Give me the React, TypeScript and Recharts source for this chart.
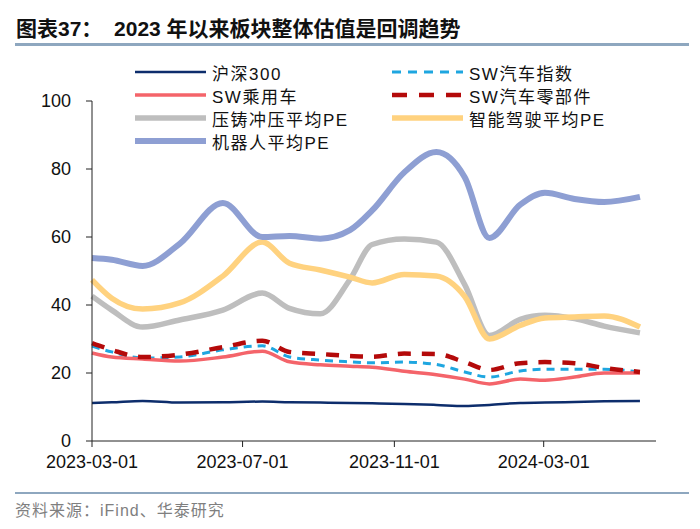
import React from "react";
import { LineChart, Line, XAxis, YAxis } from "recharts";

// 日期（x 轴按真实日期刻度）
const dates = [
  "2023-03-01", "2023-03-17", "2023-04-11", "2023-05-11", "2023-06-15",
  "2023-07-17", "2023-08-08", "2023-09-02", "2023-09-26", "2023-10-14",
  "2023-11-09", "2023-12-05", "2023-12-28", "2024-01-17", "2024-02-11",
  "2024-03-02", "2024-03-26", "2024-04-19", "2024-05-18",
];

const hs300 = [11.2, 11.4, 11.8, 11.3, 11.4, 11.6, 11.4, 11.3, 11.2, 11.1, 10.9, 10.6, 10.3, 10.6, 11.2, 11.3, 11.5, 11.7, 11.8];
const swAuto = [27.9, 26.2, 24.4, 24.7, 26.8, 28.0, 24.7, 23.8, 23.3, 23.0, 23.2, 22.5, 20.3, 18.8, 20.6, 21.1, 21.1, 21.1, 20.3];
const swCar = [25.9, 24.7, 24.1, 23.5, 24.7, 26.4, 23.3, 22.4, 22.0, 21.7, 20.5, 19.5, 18.2, 16.8, 18.2, 17.9, 18.8, 20.0, 20.0];
const swParts = [28.8, 26.8, 24.7, 25.4, 27.6, 29.5, 26.2, 25.6, 25.0, 24.8, 25.7, 25.6, 23.2, 20.9, 22.9, 23.2, 22.9, 21.5, 20.3];
const dieCast = [42.6, 38.5, 33.5, 35.6, 38.5, 43.5, 39.0, 37.4, 47.5, 57.8, 59.4, 58.5, 46.0, 31.0, 35.8, 37.0, 36.0, 33.8, 31.8];
const smartDrive = [47.4, 42.0, 38.8, 40.6, 48.5, 58.5, 52.3, 50.3, 48.2, 46.5, 49.0, 48.5, 42.5, 30.0, 34.0, 36.2, 36.5, 36.8, 33.5];
const robot = [53.8, 53.3, 51.5, 58.0, 70.0, 60.0, 60.3, 59.5, 62.0, 67.8, 79.0, 85.0, 77.6, 59.7, 69.5, 73.0, 71.2, 70.3, 71.8];

const xTicks = ["2023-03-01", "2023-07-01", "2023-11-01", "2024-03-01"];
const yTicks = [0, 20, 40, 60, 80, 100];

const toTs = (d: string) => Date.parse(d + "T00:00:00Z");
const fmt = (t: number) => new Date(t).toISOString().slice(0, 10);

const series = [
  { key: "hs300", name: "沪深300", values: hs300, color: "#0D2D6C", width: 2.5, dash: undefined as string | undefined, legendDash: undefined as string | undefined },
  { key: "swAuto", name: "SW汽车指数", values: swAuto, color: "#1EA6E0", width: 3, dash: "8 6", legendDash: "9 7" },
  { key: "swCar", name: "SW乘用车", values: swCar, color: "#F4646A", width: 3.5, dash: undefined, legendDash: undefined },
  { key: "swParts", name: "SW汽车零部件", values: swParts, color: "#B40A0A", width: 4.5, dash: "13 11", legendDash: "15 12" },
  { key: "dieCast", name: "压铸冲压平均PE", values: dieCast, color: "#BEBEBE", width: 5.5, dash: undefined, legendDash: undefined },
  { key: "smartDrive", name: "智能驾驶平均PE", values: smartDrive, color: "#FFD27F", width: 5.5, dash: undefined, legendDash: undefined },
  { key: "robot", name: "机器人平均PE", values: robot, color: "#8E9FD3", width: 6, dash: undefined, legendDash: undefined },
];

const data = dates.map((d, i) => {
  const row: Record<string, number> = { t: toTs(d) };
  series.forEach((s) => {
    row[s.key] = s.values[i];
  });
  return row;
});

const FONT = '"Liberation Sans", Arial, "Noto Sans CJK SC", sans-serif';

function ChartLegend() {
  const colX = [135, 392];
  const rowY = [72, 95, 118, 141];
  return (
    <>
      {series.map((s, i) => {
        const col = i % 2;
        const row = Math.floor(i / 2);
        return (
          <div
            key={s.key}
            style={{
              position: "absolute",
              left: colX[col],
              top: rowY[row] - 11,
              height: 22,
              display: "flex",
              alignItems: "center",
              whiteSpace: "nowrap",
            }}
          >
            <svg width={71} height={10} style={{ display: "block" }}>
              <line
                x1={0}
                y1={5}
                x2={71}
                y2={5}
                stroke={s.color}
                strokeWidth={s.width}
                strokeDasharray={s.legendDash}
                strokeLinecap={s.legendDash ? "butt" : "round"}
              />
            </svg>
            <span
              style={{
                marginLeft: 6,
                fontSize: 17,
                letterSpacing: 1.5,
                color: "#111",
                fontFamily: FONT,
              }}
            >
              {s.name}
            </span>
          </div>
        );
      })}
    </>
  );
}

export default function App() {
  return (
    <div
      style={{
        position: "absolute",
        left: 0,
        top: 0,
        width: 700,
        height: 529,
        background: "#fff",
        fontFamily: FONT,
        overflow: "hidden",
      }}
    >
      <div
        style={{
          position: "absolute",
          left: 16,
          top: 12,
          fontSize: 21,
          fontWeight: "bold",
          color: "#111",
          whiteSpace: "pre",
        }}
      >
        {"图表37：  2023 年以来板块整体估值是回调趋势"}
      </div>
      <div style={{ position: "absolute", left: 15, top: 43, width: 674, height: 3, background: "#8EA7BF" }} />

      <div style={{ position: "absolute", left: 0, top: 0 }}>
        <LineChart
          width={700}
          height={529}
          data={data}
          margin={{ top: 101, right: 44, bottom: 58, left: 0 }}
        >
          <XAxis
            dataKey="t"
            type="number"
            scale="time"
            domain={[toTs("2023-03-01"), toTs("2024-05-31")]}
            ticks={xTicks.map(toTs)}
            tickFormatter={fmt}
            height={30}
            stroke="#222"
            tickSize={6}
            tickMargin={8}
            tick={{ fill: "#111", fontSize: 18, fontFamily: FONT }}
          />
          <YAxis
            domain={[0, 100]}
            ticks={yTicks}
            width={92}
            stroke="#222"
            tickSize={6}
            tickMargin={15}
            tick={{ fill: "#111", fontSize: 18, fontFamily: FONT }}
            interval={0}
          />
          {series.map((s) => (
            <Line
              key={s.key}
              type="monotone"
              dataKey={s.key}
              name={s.name}
              stroke={s.color}
              strokeWidth={s.width}
              strokeDasharray={s.dash}
              dot={false}
              activeDot={false}
              isAnimationActive={false}
            />
          ))}
        </LineChart>
      </div>

      <ChartLegend />

      <div style={{ position: "absolute", left: 15, top: 492, width: 674, height: 2, background: "#8EA7BF" }} />
      <div
        style={{
          position: "absolute",
          left: 15,
          top: 497,
          fontSize: 16,
          color: "#7F7F7F",
          letterSpacing: 1,
        }}
      >
        资料来源：iFind、华泰研究
      </div>
    </div>
  );
}
